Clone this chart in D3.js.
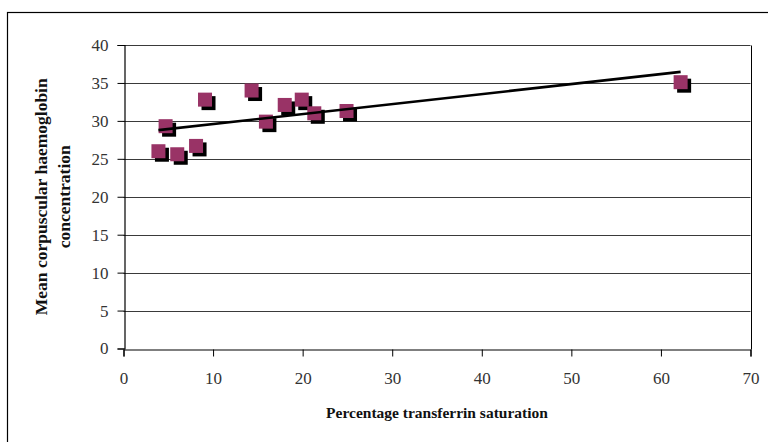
<!DOCTYPE html>
<html>
<head>
<meta charset="utf-8">
<script src="https://cdn.jsdelivr.net/npm/d3@7"></script>
<style>
  html, body { margin: 0; padding: 0; background: #fff; }
  svg { display: block; }
</style>
</head>
<body>
<svg id="chart" width="768" height="442"></svg>
<script>
// Data
const transferrinSaturation = [3.9, 4.7, 6.0, 8.1, 9.1, 14.3, 15.9, 18.0, 19.9, 21.3, 24.9, 62.2];
const mchc = [26.0, 29.3, 25.6, 26.7, 32.8, 34.0, 29.9, 32.1, 32.8, 31.0, 31.3, 35.1];
const xTicks = [0, 10, 20, 30, 40, 50, 60, 70];
const yTicks = [0, 5, 10, 15, 20, 25, 30, 35, 40];
const xTitle = "Percentage transferrin saturation";
const yTitleLines = ["Mean corpuscular haemoglobin", "concentration"];

const svg = d3.select("#chart");
const plot = { left: 123.5, right: 750.5, top: 45, bottom: 348.5 };

// outer chart frame (clipped by the canvas on the right/bottom as in reference)
svg.append("rect")
  .attr("x", 7.5).attr("y", 12.5)
  .attr("width", 780).attr("height", 460)
  .attr("fill", "#fff").attr("stroke", "#000").attr("stroke-width", 1.2);

const x = d3.scaleLinear().domain([0, 70]).range([plot.left, plot.right]);
const y = d3.scaleLinear().domain([0, 40]).range([plot.bottom, plot.top]);

const font = "'Liberation Serif', 'DejaVu Serif', serif";

// gridlines
svg.append("g").selectAll("line")
  .data(yTicks.filter(d => d > 0))
  .join("line")
  .attr("x1", plot.left).attr("x2", plot.right)
  .attr("y1", d => Math.round(y(d)) + 0.5).attr("y2", d => Math.round(y(d)) + 0.5)
  .attr("stroke", "#3a3a3a").attr("stroke-width", 1);

// plot area right border
svg.append("line")
  .attr("x1", Math.round(plot.right) + 0.5).attr("x2", Math.round(plot.right) + 0.5)
  .attr("y1", Math.round(y(40)) + 0.5).attr("y2", Math.round(y(0)) + 0.5)
  .attr("stroke", "#000").attr("stroke-width", 1);

// axes
const xAxis = svg.append("g")
  .attr("transform", `translate(0,${Math.round(y(0)) + 0.5})`)
  .call(d3.axisBottom(x).tickValues(xTicks).tickSize(7).tickPadding(22).tickFormat(d3.format("d")));
const yAxis = svg.append("g")
  .attr("transform", `translate(${Math.round(plot.left) + 0.5},0)`)
  .call(d3.axisLeft(y).tickValues(yTicks).tickSize(7).tickPadding(9).tickFormat(d3.format("d")));

[xAxis, yAxis].forEach(g => {
  g.select(".domain").attr("stroke", "#000").attr("stroke-width", 1.2);
  g.selectAll(".tick line").attr("stroke", "#000").attr("stroke-width", 1);
  g.selectAll(".tick text")
    .attr("font-family", font).attr("font-size", 17).attr("fill", "#333");
});
xAxis.selectAll(".tick text").attr("dy", "0.32em");

// trendline (least squares linear fit over the data range)
const n = transferrinSaturation.length;
const mx = d3.mean(transferrinSaturation), my = d3.mean(mchc);
let sxy = 0, sxx = 0;
for (let i = 0; i < n; i++) {
  sxy += (transferrinSaturation[i] - mx) * (mchc[i] - my);
  sxx += (transferrinSaturation[i] - mx) ** 2;
}
const slope = sxy / sxx, intercept = my - slope * mx;
const [xmin, xmax] = d3.extent(transferrinSaturation);

// markers: shadow then square
const pts = transferrinSaturation.map((v, i) => ({ x: v, y: mchc[i] }));
const size = 14, off = 3.5;
svg.append("g").selectAll("rect")
  .data(pts).join("rect")
  .attr("x", d => x(d.x) - size / 2 + off).attr("y", d => y(d.y) - size / 2 + off)
  .attr("width", size).attr("height", size).attr("fill", "#000");
svg.append("g").selectAll("rect")
  .data(pts).join("rect")
  .attr("x", d => x(d.x) - size / 2).attr("y", d => y(d.y) - size / 2)
  .attr("width", size).attr("height", size).attr("fill", "#993366");

svg.append("line")
  .attr("x1", x(xmin)).attr("y1", y(intercept + slope * xmin))
  .attr("x2", x(xmax)).attr("y2", y(intercept + slope * xmax))
  .attr("stroke", "#000").attr("stroke-width", 2.6);

// axis titles
svg.append("text")
  .attr("x", (plot.left + plot.right) / 2).attr("y", 418)
  .attr("text-anchor", "middle")
  .attr("font-family", font).attr("font-size", 15.5).attr("font-weight", "bold").attr("fill", "#111")
  .text(xTitle);

const yT = svg.append("text")
  .attr("transform", `translate(0,${(plot.top + plot.bottom) / 2}) rotate(-90)`)
  .attr("text-anchor", "middle")
  .attr("font-family", font).attr("font-size", 17.5).attr("font-weight", "bold").attr("fill", "#111");
yTitleLines.forEach((t, i) => {
  yT.append("tspan").attr("x", 0).attr("y", 47 + i * 23).text(t);
});
</script>
</body>
</html>
